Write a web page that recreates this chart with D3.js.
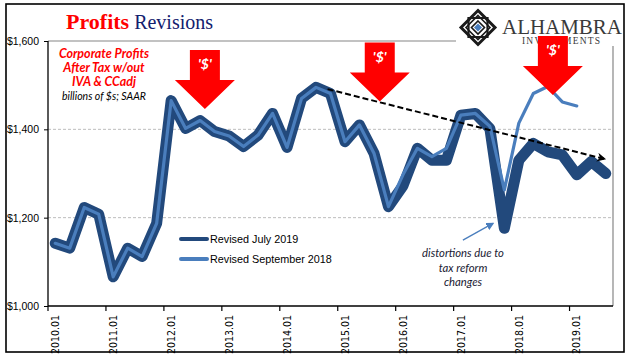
<!DOCTYPE html>
<html>
<head>
<meta charset="utf-8">
<script src="https://cdn.jsdelivr.net/npm/d3@7"></script>
<style>
  html, body { margin: 0; padding: 0; background: #fff; }
  svg { display: block; }
</style>
</head>
<body>
<svg id="chart" width="641" height="358"></svg>
<script>
// ---------------- DATA ----------------
const categories = [
  "2010.01","2010.02","2010.03","2010.04",
  "2011.01","2011.02","2011.03","2011.04",
  "2012.01","2012.02","2012.03","2012.04",
  "2013.01","2013.02","2013.03","2013.04",
  "2014.01","2014.02","2014.03","2014.04",
  "2015.01","2015.02","2015.03","2015.04",
  "2016.01","2016.02","2016.03","2016.04",
  "2017.01","2017.02","2017.03","2017.04",
  "2018.01","2018.02","2018.03","2018.04",
  "2019.01","2019.02","2019.03"
];
const revisedJuly2019 = [
  1142, 1131, 1223, 1208, 1066, 1131, 1112, 1187,
  1465, 1402, 1420, 1395, 1385, 1361, 1387, 1436,
  1359, 1470, 1495, 1481, 1372, 1410, 1346, 1225,
  1272, 1357, 1330, 1330, 1432, 1436, 1402, 1176,
  1330, 1368, 1349, 1342, 1297, 1327, 1300
];
const revisedSept2018 = [
  1142, 1131, 1223, 1208, 1066, 1131, 1112, 1187,
  1465, 1402, 1420, 1395, 1385, 1361, 1387, 1436,
  1359, 1470, 1495, 1481, 1372, 1410, 1346, 1225,
  1297, 1357, 1338, 1357, 1432, 1436, 1407, 1263,
  1414, 1481, 1497, 1462, 1453
];
const seriesNames = ["Revised July 2019", "Revised September 2018"];
const yTicks = [1000, 1200, 1400, 1600];
const xTickLabels = ["2010.01","2011.01","2012.01","2013.01","2014.01","2015.01","2016.01","2017.01","2018.01","2019.01"];
// annotation anchors in data units (category index, value)
const dollarArrowTips = [[10.33, 1446], [22.4, 1463], [34.35, 1478]];
const trendLine = [[18.8, 1491], [37.9, 1333]];
const distortionArrow = [[28.14, 1149], [30.21, 1187]];
const noteLines = ["Corporate  Profits", "After Tax w/out", "IVA & CCadj"];
const unitsLine = "billions of $s; SAAR";
const distortionLines = ["distortions due to", "tax reform", "changes"];

// ---------------- LAYOUT ----------------
const svg = d3.select("#chart");
const L = 48, R = 613, T = 41, B = 306;
const DARK = "#22497c", LIGHT = "#4a7ebd";

const x = d3.scaleBand().domain(d3.range(categories.length)).range([L, R]).paddingInner(0).paddingOuter(0);
const xi = d3.scaleLinear().domain([-0.5, categories.length - 0.5]).range([L, R]);
const y = d3.scaleLinear().domain([1000, 1600]).range([B, T]);

svg.append("rect").attr("width", 641).attr("height", 358).attr("fill", "#fff");

// gridlines
svg.append("g").selectAll("line").data(yTicks.filter(v => v > 1000 && v < 1600)).join("line")
  .attr("x1", L).attr("x2", R).attr("y1", d => y(d)).attr("y2", d => y(d))
  .attr("stroke", "#bdbdbd").attr("stroke-width", 1).attr("stroke-dasharray", "3,2");

// plot frame top & right (gray)
svg.append("line").attr("x1", L).attr("x2", R).attr("y1", y(1600)).attr("y2", y(1600))
  .attr("stroke", "#868686").attr("stroke-width", 1.2);
svg.append("line").attr("x1", R).attr("x2", R).attr("y1", y(1600)).attr("y2", B)
  .attr("stroke", "#868686").attr("stroke-width", 1.2);

// y axis
const yAxis = svg.append("g").attr("transform", `translate(${L},0)`)
  .call(d3.axisLeft(y).tickValues(yTicks).tickSize(4).tickPadding(5)
    .tickFormat(d => "$" + d3.format(",")(d)));
yAxis.select(".domain").remove();
yAxis.selectAll("line").attr("stroke", "#000");
yAxis.selectAll("text").attr("font-family", "'Liberation Sans', Arial, sans-serif")
  .attr("font-size", 10.5).attr("fill", "#000");
svg.append("line").attr("x1", L).attr("x2", L).attr("y1", T).attr("y2", B)
  .attr("stroke", "#000").attr("stroke-width", 1.3);

// x axis
svg.append("line").attr("x1", L).attr("x2", R).attr("y1", B).attr("y2", B)
  .attr("stroke", "#000").attr("stroke-width", 1.3);
const xTickIdx = xTickLabels.map(lbl => categories.indexOf(lbl));
svg.append("g").selectAll("line").data(xTickIdx).join("line")
  .attr("x1", d => x(d)).attr("x2", d => x(d)).attr("y1", B).attr("y2", B + 5)
  .attr("stroke", "#000").attr("stroke-width", 1.2);
svg.append("g").selectAll("text").data(xTickIdx).join("text")
  .attr("transform", d => `translate(${x(d) + x.bandwidth() / 2},${B + 9}) rotate(-90)`)
  .attr("text-anchor", "end").attr("dy", "0.35em")
  .attr("font-family", "'Liberation Sans Narrow', 'Arial Narrow', 'DejaVu Sans Condensed', sans-serif")
  .attr("font-size", 10.5).attr("fill", "#000")
  .text(d => categories[d]);

// series
const line = d3.line().x((d, i) => x(i) + x.bandwidth() / 2).y(d => y(d)).curve(d3.curveLinear);
svg.append("path").datum(revisedJuly2019).attr("d", line)
  .attr("fill", "none").attr("stroke", DARK).attr("stroke-width", 11)
  .attr("stroke-linejoin", "round").attr("stroke-linecap", "round");
svg.append("path").datum(revisedSept2018).attr("d", line)
  .attr("fill", "none").attr("stroke", LIGHT).attr("stroke-width", 3.2)
  .attr("stroke-linejoin", "round").attr("stroke-linecap", "round");

// trend dashed arrow
const defs = svg.append("defs");
defs.append("marker").attr("id", "blackHead").attr("viewBox", "0 0 10 10")
  .attr("refX", 8).attr("refY", 5).attr("markerWidth", 9).attr("markerHeight", 9)
  .attr("markerUnits", "userSpaceOnUse").attr("orient", "auto")
  .append("path").attr("d", "M0,0 L10,5 L0,10 L3,5 z").attr("fill", "#000");
defs.append("marker").attr("id", "blueHead").attr("viewBox", "0 0 10 10")
  .attr("refX", 8).attr("refY", 5).attr("markerWidth", 8).attr("markerHeight", 8)
  .attr("markerUnits", "userSpaceOnUse").attr("orient", "auto")
  .append("path").attr("d", "M0,0 L10,5 L0,10 z").attr("fill", LIGHT);

svg.append("line")
  .attr("x1", xi(trendLine[0][0])).attr("y1", y(trendLine[0][1]))
  .attr("x2", xi(trendLine[1][0])).attr("y2", y(trendLine[1][1]))
  .attr("stroke", "#000").attr("stroke-width", 2).attr("stroke-dasharray", "6,3")
  .attr("marker-end", "url(#blackHead)");

// distortion arrow
svg.append("line")
  .attr("x1", xi(distortionArrow[0][0])).attr("y1", y(distortionArrow[0][1]))
  .attr("x2", xi(distortionArrow[1][0])).attr("y2", y(distortionArrow[1][1]))
  .attr("stroke", LIGHT).attr("stroke-width", 1.3)
  .attr("marker-end", "url(#blueHead)");

// legend
const lg = svg.append("g");
[[DARK, 239], [LIGHT, 259]].forEach(([c, ly], k) => {
  lg.append("line").attr("x1", 181).attr("x2", 207).attr("y1", ly).attr("y2", ly)
    .attr("stroke", c).attr("stroke-width", 4).attr("stroke-linecap", "round");
  lg.append("text").attr("x", 210).attr("y", ly + 4)
    .attr("font-family", "'Liberation Sans', Arial, sans-serif").attr("font-size", 10.8)
    .attr("fill", "#000").text(seriesNames[k]);
});

// title
const title = svg.append("text").attr("x", 66).attr("y", 29)
  .attr("font-family", "'Liberation Serif', 'Times New Roman', serif");
title.append("tspan").attr("font-weight", "bold").attr("font-size", 22).attr("fill", "#ff0000").text("Profits");
title.append("tspan").attr("font-size", 20).attr("fill", "#12206e").attr("dx", 5).text("Revisions");

// red note
noteLines.forEach((t, k) => {
  svg.append("text").attr("x", 104).attr("y", 57.5 + k * 14.3)
    .attr("text-anchor", "middle").attr("font-family", "Lato, 'Open Sans', sans-serif")
    .attr("font-style", "italic").attr("font-weight", "bold").attr("font-size", 12.5)
    .attr("fill", "#ff0000").text(t);
});
svg.append("text").attr("x", 104).attr("y", 100)
  .attr("text-anchor", "middle").attr("font-family", "Lato, 'Open Sans', sans-serif")
  .attr("font-style", "italic").attr("font-size", 10.5).attr("fill", "#000").text(unitsLine);

// distortion note
distortionLines.forEach((t, k) => {
  svg.append("text").attr("x", 463).attr("y", 257 + k * 14.5)
    .attr("text-anchor", "middle").attr("font-family", "Lato, 'Open Sans', sans-serif")
    .attr("font-style", "italic").attr("font-size", 11.3).attr("fill", "#1a1a33").text(t);
});

// logo
const logo = svg.append("g");
logo.append("rect").attr("x", 456).attr("y", 6).attr("width", 166).attr("height", 40).attr("fill", "#fff");
const cx = 478, cy = 27.5;
const diamond = (r) => `M${cx},${cy - r} L${cx + r},${cy} L${cx},${cy + r} L${cx - r},${cy} Z`;
const square = (r) => `M${cx - r},${cy - r} L${cx + r},${cy - r} L${cx + r},${cy + r} L${cx - r},${cy + r} Z`;
logo.append("path").attr("d", diamond(17)).attr("fill", "none").attr("stroke", "#1a1a1a").attr("stroke-width", 3);
logo.append("path").attr("d", square(9.5)).attr("fill", "none").attr("stroke", "#1a1a1a").attr("stroke-width", 2.2);
logo.append("path").attr("d", diamond(12)).attr("fill", "none").attr("stroke", "#1a1a1a").attr("stroke-width", 1.6);
logo.append("path").attr("d", diamond(6.5)).attr("fill", "none").attr("stroke", "#1a1a1a").attr("stroke-width", 1.6);
logo.append("path").attr("d", diamond(4)).attr("fill", "#4a7ebd");
logo.append("text").attr("x", 502).attr("y", 33.5)
  .attr("font-family", "'Liberation Serif', serif").attr("font-size", 21)
  .attr("textLength", 120).attr("lengthAdjust", "spacing")
  .attr("fill", "#3a3a3a").text("ALHAMBRA");
logo.append("text").attr("x", 522).attr("y", 43.5)
  .attr("font-family", "'Liberation Serif', serif").attr("font-size", 9.5)
  .attr("textLength", 78).attr("lengthAdjust", "spacing")
  .attr("fill", "#3a3a3a").text("INVESTMENTS");

// red '$' arrows
const arrows = svg.append("g");
dollarArrowTips.forEach(([ci, v]) => {
  const tx = xi(ci), ty = y(v);
  const headH = 29, shaftH = 30, headW = 30, shaftW = 15;
  const p = `M${tx},${ty} L${tx - headW},${ty - headH} L${tx - shaftW},${ty - headH}
    L${tx - shaftW},${ty - headH - shaftH} L${tx + shaftW},${ty - headH - shaftH}
    L${tx + shaftW},${ty - headH} L${tx + headW},${ty - headH} Z`;
  arrows.append("path").attr("d", p).attr("fill", "#ff0000");
  arrows.append("text").attr("x", tx).attr("y", ty - headH - shaftH + 19)
    .attr("text-anchor", "middle").attr("font-family", "Lato, 'Open Sans', sans-serif")
    .attr("font-style", "italic").attr("font-weight", "bold").attr("font-size", 14)
    .attr("fill", "#fff").text("'$'");
});

// outer border
svg.append("rect").attr("x", 6).attr("y", 4).attr("width", 618).attr("height", 348)
  .attr("fill", "none").attr("stroke", "#000").attr("stroke-width", 1.6);
</script>
</body>
</html>
